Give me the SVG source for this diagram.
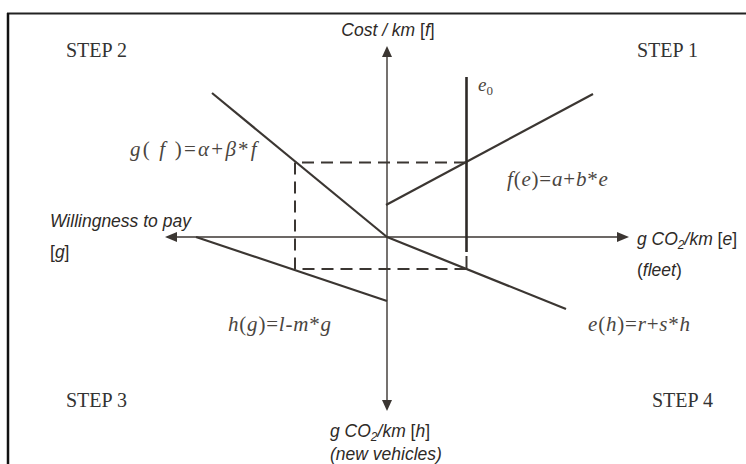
<svg xmlns="http://www.w3.org/2000/svg" width="746" height="464" viewBox="0 0 746 464">
  <defs>
    <style>
      .axis { stroke: #3b3632; stroke-width: 1.4; fill: none; }
      .curve { stroke: #3b3632; stroke-width: 2.2; fill: none; stroke-linecap: butt; }
      .dash { stroke: #3b3632; stroke-width: 2; fill: none; stroke-dasharray: 12 7; }
      .head { fill: #3b3632; }
      .step { font-family: "Liberation Serif", serif; font-size: 20px; fill: #333; }
      .eq { font-family: "Liberation Serif", serif; font-style: italic; font-size: 21px; letter-spacing: 0.8px; fill: #4a4540; }
      .lbl { font-family: "Liberation Sans", Arial, sans-serif; font-style: italic; font-size: 17.5px; fill: #2e2a27; }
      .up { font-style: normal; }
      .sub { font-size: 12px; }
    </style>
  </defs>
  <rect x="0" y="0" width="746" height="464" fill="#ffffff"/>
  <g id="frame">
    <line x1="7" y1="13.5" x2="746" y2="13.5" stroke="#222" stroke-width="2"/>
    <line x1="8" y1="13" x2="8" y2="464" stroke="#111" stroke-width="2.5"/>
  </g>
  <g id="axes">
    <line class="axis" x1="387" y1="56" x2="387" y2="401"/>
    <polygon class="head" points="387,46 382,57 392,57"/>
    <polygon class="head" points="387,411 382,400 392,400"/>
    <line class="axis" x1="176" y1="237" x2="618" y2="237"/>
    <polygon class="head" points="165,237 177,232 177,242"/>
    <polygon class="head" points="629,237 617,232 617,242"/>
  </g>
  <g id="curves">
    <line class="curve" x1="386" y1="205" x2="593" y2="94"/>
    <line class="curve" x1="212" y1="93" x2="387" y2="237"/>
    <line class="curve" x1="196" y1="237" x2="387" y2="301"/>
    <line class="curve" x1="387" y1="237" x2="566" y2="309"/>
    <line x1="466.5" y1="77" x2="466.5" y2="252" stroke="#2e2a27" stroke-width="2.6"/>
    <line x1="466.5" y1="256" x2="466.5" y2="270" stroke="#3b3632" stroke-width="2"/>
  </g>
  <g id="projection">
    <path class="dash" d="M466,162.5 H295 V269 H466"/>
  </g>
  <g id="steps">
    <text class="step" x="66" y="57">STEP 2</text>
    <text class="step" x="637" y="57">STEP 1</text>
    <text class="step" x="66" y="407">STEP 3</text>
    <text class="step" x="652" y="407">STEP 4</text>
  </g>
  <g id="axis-labels">
    <text class="lbl" x="388" y="36" text-anchor="middle">Cost / km <tspan class="up">[</tspan>f<tspan class="up">]</tspan></text>
    <text class="lbl" x="50" y="227">Willingness to pay</text>
    <text class="lbl" x="50" y="258"><tspan class="up">[</tspan>g<tspan class="up">]</tspan></text>
    <text class="lbl" x="637" y="245">g CO<tspan class="sub" dy="4">2</tspan><tspan dy="-4">/km </tspan><tspan class="up">[</tspan>e<tspan class="up">]</tspan></text>
    <text class="lbl" x="637" y="276"><tspan class="up">(</tspan>fleet<tspan class="up">)</tspan></text>
    <text class="lbl" x="330" y="437">g  CO<tspan class="sub" dy="4">2</tspan><tspan dy="-4">/km </tspan><tspan class="up">[</tspan>h<tspan class="up">]</tspan></text>
    <text class="lbl" x="330" y="460">(new vehicles)</text>
  </g>
  <g id="equations">
    <text class="eq" x="478" y="91" style="font-size:19px;letter-spacing:0">e<tspan class="up" style="font-size:13px" dy="4">0</tspan></text>
    <text class="eq" x="130" y="156" style="letter-spacing:2.2px">g<tspan class="up">(</tspan> f <tspan class="up">)=</tspan>α<tspan class="up">+</tspan>β<tspan class="up">*</tspan>f</text>
    <text class="eq" x="507" y="186">f<tspan class="up">(</tspan>e<tspan class="up">)=</tspan>a<tspan class="up">+</tspan>b<tspan class="up">*</tspan>e</text>
    <text class="eq" x="228" y="331">h<tspan class="up">(</tspan>g<tspan class="up">)=</tspan>l-m<tspan class="up">*</tspan>g</text>
    <text class="eq" x="588" y="331">e<tspan class="up">(</tspan>h<tspan class="up">)=</tspan>r<tspan class="up">+</tspan>s<tspan class="up">*</tspan>h</text>
  </g>
</svg>
